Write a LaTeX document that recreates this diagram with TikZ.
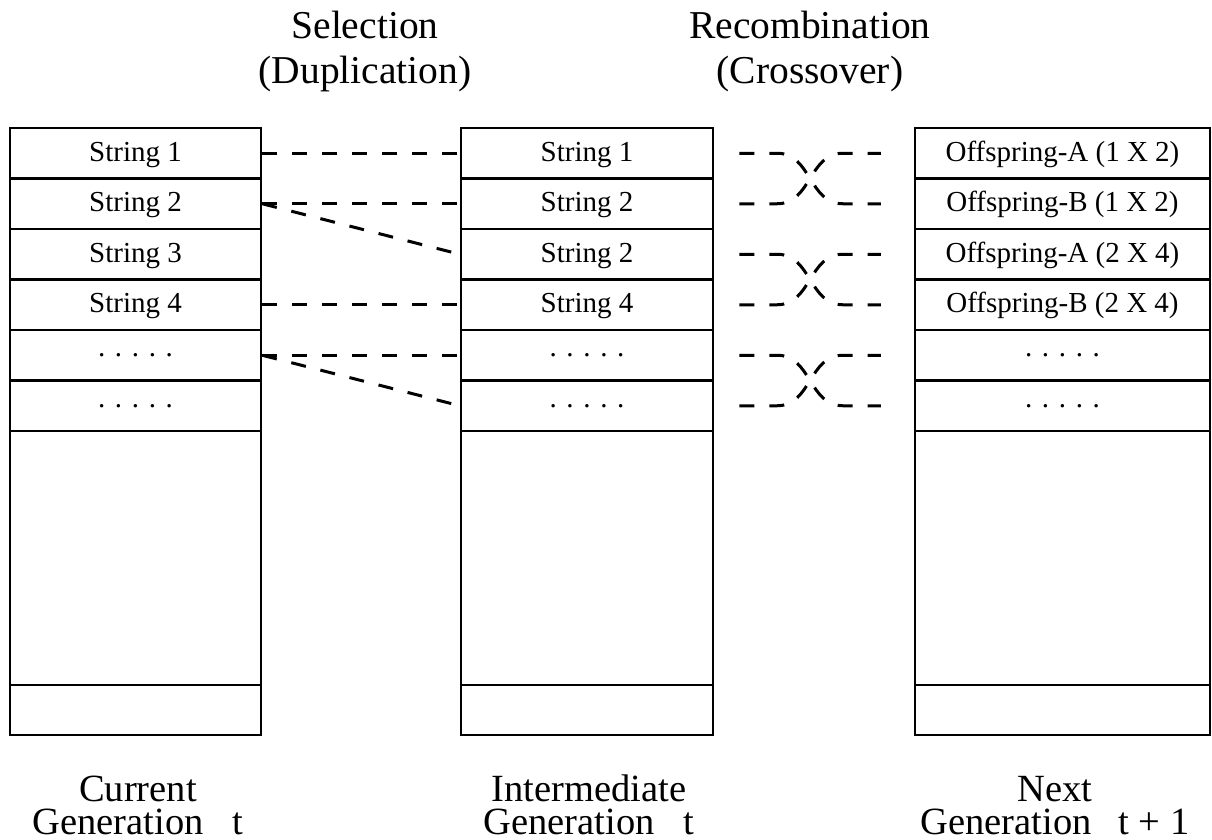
\documentclass[tikz,border=0pt]{standalone}
\usepackage{fontspec}
\setmainfont{Liberation Serif}
\usetikzlibrary{calc}
\begin{document}
\begin{tikzpicture}[x=1pt,y=-1pt,
 cell/.style={draw,line width=2.5pt,rectangle,inner sep=0pt,minimum height=50.5pt,text height=22pt,text depth=6pt,font=\fontsize{29}{34}\selectfont},
 colA/.style={cell,minimum width=251pt},
 colB/.style={cell,minimum width=252pt},
 colC/.style={cell,minimum width=295pt},
 dots/.style={text height=3pt,text depth=0pt},
 link/.style={line width=3pt,dash pattern=on 15pt off 15pt},
 titletext/.style={font=\fontsize{39.5}{45}\selectfont,align=center,anchor=north,inner sep=0pt},
 captext/.style={font=\fontsize{38.5}{32.5}\selectfont,align=center,anchor=south,inner sep=0pt}]
\useasboundingbox (0,0) rectangle (1212,840);
\clip (0,0) rectangle (1212,840);
% column 1
\node[colA] (a1) at (135.5,153.25) {String 1};
\node[colA] (a2) at (135.5,203.75) {String 2};
\node[colA] (a3) at (135.5,254.25) {String 3};
\node[colA] (a4) at (135.5,304.75) {String 4};
\node[colA,dots] (a5) at (135.5,355.25) {. . . . .};
\node[colA,dots] (a6) at (135.5,405.75) {. . . . .};
\node[colA,minimum height=254pt] (a7) at (135.5,558) {};
\node[colA,minimum height=50pt] (a8) at (135.5,710) {};
% column 2
\node[colB] (b1) at (587,153.25) {String 1};
\node[colB] (b2) at (587,203.75) {String 2};
\node[colB] (b3) at (587,254.25) {String 2};
\node[colB] (b4) at (587,304.75) {String 4};
\node[colB,dots] (b5) at (587,355.25) {. . . . .};
\node[colB,dots] (b6) at (587,405.75) {. . . . .};
\node[colB,minimum height=254pt] (b7) at (587,558) {};
\node[colB,minimum height=50pt] (b8) at (587,710) {};
% column 3
\node[colC] (c1) at (1062.5,153.25) {Offspring-A (1 X 2)};
\node[colC] (c2) at (1062.5,203.75) {Offspring-B (1 X 2)};
\node[colC] (c3) at (1062.5,254.25) {Offspring-A (2 X 4)};
\node[colC] (c4) at (1062.5,304.75) {Offspring-B (2 X 4)};
\node[colC,dots] (c5) at (1062.5,355.25) {. . . . .};
\node[colC,dots] (c6) at (1062.5,405.75) {. . . . .};
\node[colC,minimum height=254pt] (c7) at (1062.5,558) {};
\node[colC,minimum height=50pt] (c8) at (1062.5,710) {};
% selection links
\draw[link] (a1.east) -- (b1.west);
\draw[link] (a2.east) -- (b2.west);
\draw[link] (a2.east) -- (b3.west);
\draw[link] (a4.east) -- (b4.west);
\draw[link] (a5.east) -- (b5.west);
\draw[link] (a5.east) -- (b6.west);
% crossover
\foreach \u/\v in {1/2,3/4,5/6}{
  \coordinate (LT\u) at ($(b\u.east)+(25,0)$);
  \coordinate (LB\u) at ($(b\v.east)+(25,0)$);
  \coordinate (RT\u) at ($(c\u.west)+(-33,0)$);
  \coordinate (RB\u) at ($(c\v.west)+(-33,0)$);
  \draw[link] (LT\u) -- ($(LT\u)+(38,0)$) .. controls ($(LT\u)+(72,0)$) and ($(RB\u)+(-72,0)$) .. ($(RB\u)+(-38,0)$) -- (RB\u);
  \draw[link] (LB\u) -- ($(LB\u)+(38,0)$) .. controls ($(LB\u)+(72,0)$) and ($(RT\u)+(-72,0)$) .. ($(RT\u)+(-38,0)$) -- (RT\u);
}
% titles
\node[titletext] (t1) at (365,11) {Selection\\(Duplication)};
\node[titletext] (t3) at (810,11) {Recombination\\(Crossover)};
% captions
\node[captext] (g1) at (138,835) {Current\\Generation\hspace{0.75em}t};
\node[captext] (g3) at (589,835) {Intermediate\\Generation\hspace{0.75em}t};
\node[captext] (g5) at (1055,835) {Next\\Generation\hspace{0.7em}t + 1};
\end{tikzpicture}
\end{document}
